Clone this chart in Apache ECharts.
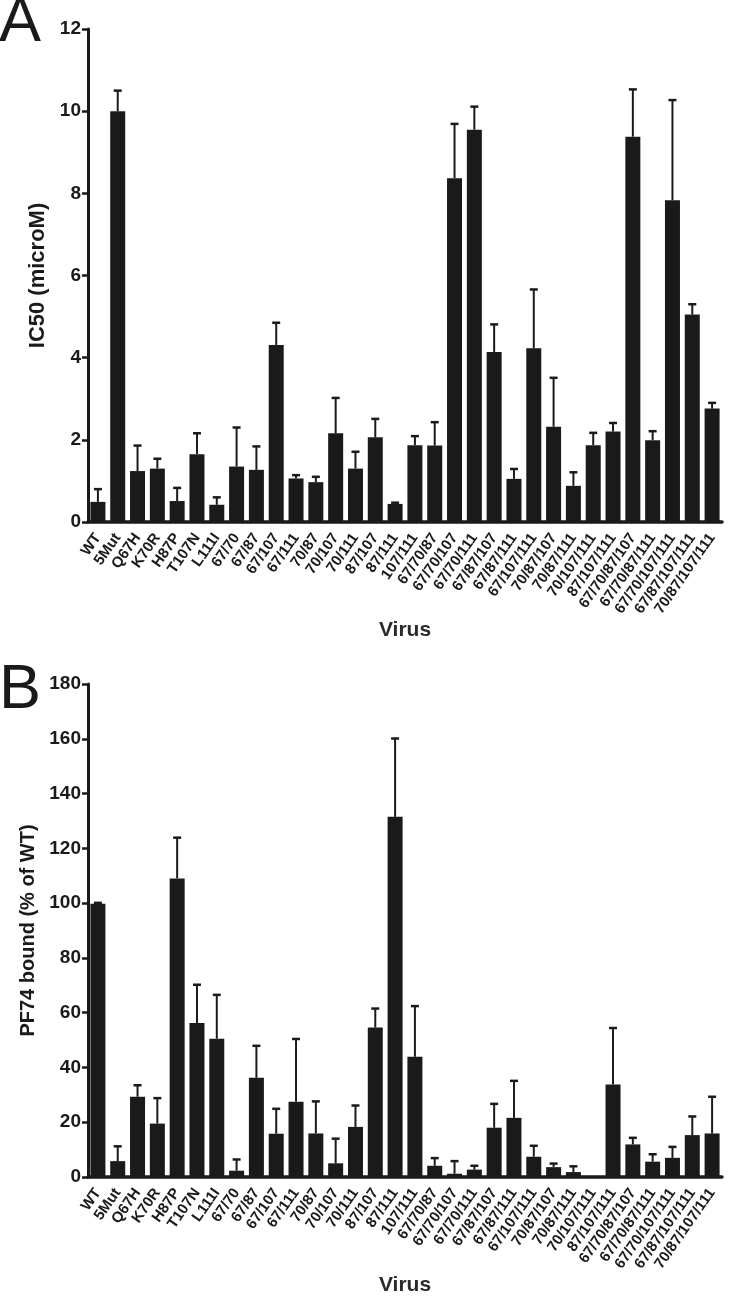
<!DOCTYPE html>
<html><head><meta charset="utf-8">
<script src="https://cdn.jsdelivr.net/npm/echarts@6/dist/echarts.min.js"></script>
<style>html,body{margin:0;padding:0;background:#fff}#c{width:747px;height:1297px}</style>
</head><body><div id="c"></div>
<script>
const categories = ['WT','5Mut','Q67H','K70R','H87P','T107N','L111I','67/70','67/87','67/107','67/111','70/87','70/107','70/111','87/107','87/111','107/111','67/70/87','67/70/107','67/70/111','67/87/107','67/87/111','67/107/111','70/87/107','70/87/111','70/107/111','87/107/111','67/70/87/107','67/70/87/111','67/70/107/111','67/87/107/111','70/87/107/111'];
const ic50 = [0.49,10.0,1.24,1.30,0.51,1.65,0.42,1.35,1.27,4.31,1.06,0.97,2.16,1.30,2.06,0.44,1.87,1.86,8.37,9.55,4.14,1.05,4.23,2.32,0.88,1.87,2.20,9.38,1.99,7.83,5.05,2.76];
const ic50Sem = [0.31,0.50,0.62,0.24,0.32,0.51,0.18,0.95,0.57,0.54,0.08,0.13,0.86,0.41,0.45,0.03,0.22,0.57,1.32,0.56,0.67,0.24,1.43,1.19,0.33,0.30,0.21,1.15,0.22,2.44,0.25,0.14];
const pf74 = [99.8,5.8,29.3,19.5,109.0,56.2,50.5,2.3,36.2,15.8,27.5,15.9,5.0,18.3,54.6,131.5,43.9,4.1,1.2,2.7,18.0,21.6,7.4,3.6,1.8,0.2,33.8,11.9,5.6,7.0,15.3,15.9];
const pf74Sem = [0.3,5.4,4.2,9.3,14.9,14.0,16.0,4.1,11.7,9.1,22.9,11.7,9.0,7.8,6.9,28.6,18.5,2.8,4.6,1.4,8.7,13.5,4.0,1.3,2.1,0,20.6,2.4,2.7,4.0,6.8,13.4];
const ic50Ticks = {min:0, max:12, interval:2};
const pf74Ticks = {min:0, max:180, interval:20};

const FONT = 'Liberation Sans, Arial, sans-serif';
const INK = '#1a1a1a';

function errRender(params, api){
  const x = api.value(0), v = api.value(1), e = api.value(2);
  if (!(e > 0)) return null;
  const b = api.coord([x, v]);
  const t = api.coord([x, v + e]);
  const hw = 4;
  return {type:'group', children:[
    {type:'line', shape:{x1:b[0], y1:b[1], x2:t[0], y2:t[1]}, style:{stroke:INK, lineWidth:2}},
    {type:'line', shape:{x1:t[0]-hw, y1:t[1], x2:t[0]+hw, y2:t[1]}, style:{stroke:INK, lineWidth:2.5}}
  ]};
}

function xAxis(gi, gap){
  return {
    type:'category', gridIndex:gi, data:categories,
    name:'Virus', nameLocation:'middle', nameGap:gap,
    nameTextStyle:{fontFamily:FONT, fontWeight:'bold', fontSize:21, color:'#2a2a2a'},
    axisLine:{lineStyle:{color:INK, width:3.5}},
    axisTick:{alignWithLabel:true, length:6, lineStyle:{color:INK, width:3}},
    axisLabel:{interval:0, rotate:55, margin:13, fontFamily:FONT, fontWeight:'bold', fontSize:15, color:INK},
    splitLine:{show:false}
  };
}
function yAxis(gi, ticks, name, gap, nsize){
  return {
    type:'value', gridIndex:gi, min:ticks.min, max:ticks.max, interval:ticks.interval,
    name:name, nameLocation:'middle', nameGap:gap,
    nameTextStyle:{fontFamily:FONT, fontWeight:'bold', fontSize:nsize, color:INK},
    axisLine:{show:true, lineStyle:{color:INK, width:3}},
    axisTick:{show:true, length:6, lineStyle:{color:INK, width:2.5}},
    axisLabel:{margin:7, fontFamily:FONT, fontWeight:'bold', fontSize:19, color:INK},
    splitLine:{show:false}
  };
}

const chart = echarts.init(document.getElementById('c'), null, {renderer:'canvas'});
chart.setOption({
  backgroundColor:'#ffffff',
  animation:false,
  grid:[
    {left:88, width:634, top:29, height:493, outerBoundsMode:'none', containLabel:false},
    {left:88, width:634, top:684, height:493, outerBoundsMode:'none', containLabel:false}
  ],
  xAxis:[xAxis(0, 96), xAxis(1, 98)],
  yAxis:[yAxis(0, ic50Ticks, 'IC50 (microM)', 39, 22), yAxis(1, pf74Ticks, 'PF74 bound (% of WT)', 46, 20)],
  graphic:[
    {type:'text', left:-1, top:-8, style:{text:'A', fontSize:63, fontFamily:FONT, fill:INK}},
    {type:'text', left:-1, top:659, style:{text:'B', fontSize:63, fontFamily:FONT, fill:INK}}
  ],
  series:[
    {type:'custom', xAxisIndex:0, yAxisIndex:0, renderItem:errRender, encode:{x:0,y:1}, z:1,
     data:categories.map((c,i)=>[i, ic50[i], ic50Sem[i]])},
    {type:'bar', xAxisIndex:0, yAxisIndex:0, data:ic50, barWidth:15, z:2,
     itemStyle:{color:INK}},
    {type:'custom', xAxisIndex:1, yAxisIndex:1, renderItem:errRender, encode:{x:0,y:1}, z:1,
     data:categories.map((c,i)=>[i, pf74[i], pf74Sem[i]])},
    {type:'bar', xAxisIndex:1, yAxisIndex:1, data:pf74, barWidth:15, z:2,
     itemStyle:{color:INK}}
  ]
});
</script>
</body></html>
